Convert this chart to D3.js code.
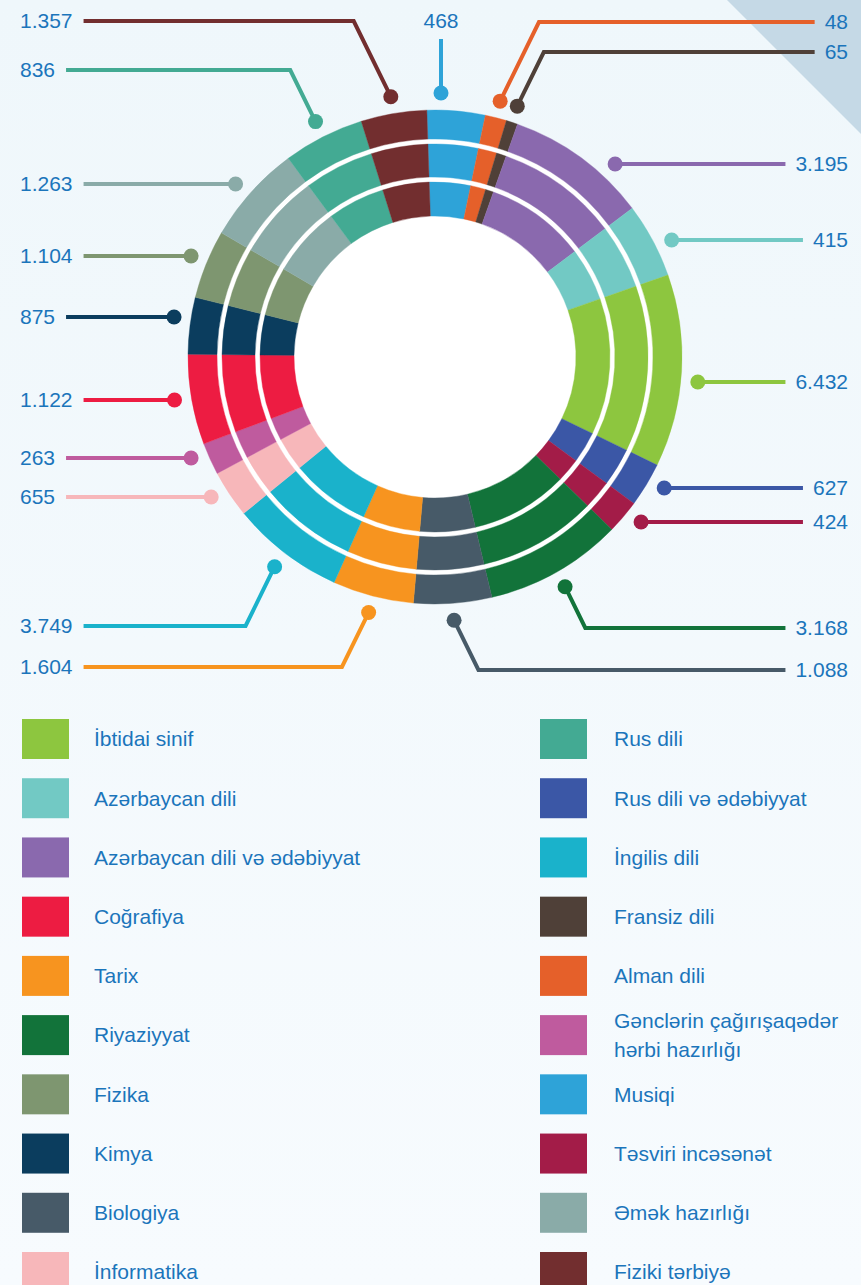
<!DOCTYPE html>
<html>
<head>
<meta charset="utf-8">
<script src="https://cdn.jsdelivr.net/npm/d3@7"></script>
<style>
  body { margin: 0; background: #f3f9fc; }
  svg text {
    font-family: "Liberation Sans", Arial, "DejaVu Sans", sans-serif;
    font-size: 21px;
    fill: #1b75bb;
  }
</style>
</head>
<body>
<div id="vis"></div>
<script>
// subjects in ring order, clockwise from the top
const subjects = ["Musiqi", "Alman dili", "Fransiz dili", "Azərbaycan dili və ədəbiyyat",
  "Azərbaycan dili", "İbtidai sinif", "Rus dili və ədəbiyyat", "Təsviri incəsənət",
  "Riyaziyyat", "Biologiya", "Tarix", "İngilis dili", "İnformatika",
  "Gənclərin çağırışaqədər hərbi hazırlığı", "Coğrafiya", "Kimya", "Fizika",
  "Əmək hazırlığı", "Rus dili", "Fiziki tərbiyə"];

// number shown at each callout
const teachers = [468, 48, 65, 3195, 415, 6432, 627, 424, 3168, 1088, 1604, 3749, 655,
  263, 1122, 875, 1104, 1263, 836, 1357];

// share of the ring each subject takes in the picture (%), not proportional to the numbers
const ringShare = [3.8, 1.4, 0.75, 9.3, 4.9, 12.6, 2.9, 2.2, 9.0, 5.1, 5.3, 7.4, 3.1,
  2.1, 5.9, 3.7, 4.5, 6.5, 5.3, 4.3];

const colors = ["#2ea3d8", "#e5602a", "#4f4038", "#8a69ae", "#72c9c4", "#8dc63f",
  "#3b57a6", "#a31c48", "#12733a", "#475a68", "#f7941f", "#1ab2cb", "#f7b7ba",
  "#bf5b9e", "#ed1c42", "#0b3d5e", "#7e9670", "#8aaba8", "#43aa93", "#722e2f"];

const legendLeft = ["İbtidai sinif", "Azərbaycan dili", "Azərbaycan dili və ədəbiyyat",
  "Coğrafiya", "Tarix", "Riyaziyyat", "Fizika", "Kimya", "Biologiya", "İnformatika"];
const legendRight = ["Rus dili", "Rus dili və ədəbiyyat", "İngilis dili", "Fransiz dili",
  "Alman dili", "Gənclərin çağırışaqədər hərbi hazırlığı", "Musiqi", "Təsviri incəsənət",
  "Əmək hazırlığı", "Fiziki tərbiyə"];

// callout rows (layout only)
const calloutY = {
  "Musiqi": 21, "Alman dili": 22, "Fransiz dili": 52, "Azərbaycan dili və ədəbiyyat": 164,
  "Azərbaycan dili": 240, "İbtidai sinif": 382, "Rus dili və ədəbiyyat": 488,
  "Təsviri incəsənət": 522, "Riyaziyyat": 628, "Biologiya": 670, "Tarix": 667,
  "İngilis dili": 626, "İnformatika": 497, "Gənclərin çağırışaqədər hərbi hazırlığı": 458,
  "Coğrafiya": 400, "Kimya": 317, "Fizika": 256, "Əmək hazırlığı": 184, "Rus dili": 70,
  "Fiziki tərbiyə": 21
};

const width = 861, height = 1285;
const cx = 435, cy = 357;
const rings = [[141, 175], [180, 213], [218, 247]];
const dotR = 264;

const fmt = d3.formatLocale({ decimal: ",", thousands: ".", grouping: [3], currency: ["", ""] }).format(",");
const color = d3.scaleOrdinal().domain(subjects).range(colors);

const svg = d3.select("#vis").append("svg")
  .attr("width", width)
  .attr("height", height);

const defs = svg.append("defs");
const grad = defs.append("linearGradient")
  .attr("id", "bg").attr("x1", 0).attr("y1", 0).attr("x2", 0).attr("y2", 1);
grad.append("stop").attr("offset", "0%").attr("stop-color", "#eff7fb");
grad.append("stop").attr("offset", "100%").attr("stop-color", "#f7fbfe");

svg.append("rect").attr("width", width).attr("height", height).attr("fill", "url(#bg)");
svg.append("path")
  .attr("d", `M727,0 L${width},0 L${width},134 Z`)
  .attr("fill", "#c5d9e6");

const data = subjects.map((s, i) => ({ name: s, value: teachers[i], share: ringShare[i] }));

const start = -1.9 * Math.PI / 180;
const pie = d3.pie()
  .sort(null)
  .value(d => d.share)
  .startAngle(start)
  .endAngle(start + 2 * Math.PI);
const arcs = pie(data);

const g = svg.append("g").attr("transform", `translate(${cx},${cy})`);

// white base so the gaps between rings are white
g.append("circle").attr("r", rings[2][1]).attr("fill", "#fff");

rings.forEach((r, k) => {
  const arc = d3.arc().innerRadius(r[0]).outerRadius(r[1]);
  g.append("g").attr("class", "ring ring-" + k)
    .selectAll("path")
    .data(arcs)
    .join("path")
    .attr("d", arc)
    .attr("fill", d => color(d.data.name))
    .attr("stroke", d => color(d.data.name))
    .attr("stroke-width", 0.4);
});

// callouts
const callouts = svg.append("g").attr("class", "callouts");

arcs.forEach(d => {
  const name = d.data.name;
  const c = color(name);
  const mid = (d.startAngle + d.endAngle) / 2;
  const ly = calloutY[name];
  let dx = cx + dotR * Math.sin(mid);
  let dy = cy - dotR * Math.cos(mid);
  const grp = callouts.append("g");

  if (name === "Musiqi") {
    // top callout: vertical stem
    const lx = 441;
    dx = lx;
    dy = cy - Math.sqrt(dotR * dotR - (lx - cx) * (lx - cx));
    grp.append("path")
      .attr("d", `M${lx},39 V${dy}`)
      .attr("stroke", c).attr("stroke-width", 4).attr("fill", "none");
    grp.append("circle").attr("cx", dx).attr("cy", dy).attr("r", 7.5).attr("fill", c);
    grp.append("text").attr("x", lx).attr("y", ly).attr("dy", "0.35em")
      .attr("text-anchor", "middle").text(fmt(d.data.value));
    return;
  }

  const left = mid > Math.PI;
  const text = grp.append("text")
    .attr("x", left ? 20 : 848)
    .attr("y", ly)
    .attr("dy", "0.35em")
    .attr("text-anchor", left ? "start" : "end")
    .text(fmt(d.data.value));
  const tw = text.node().getComputedTextLength();
  const edge = left ? 20 + tw + 11 : 848 - tw - 10;

  let path;
  if (Math.abs(ly - dy) < 30) {
    // slide the dot along the circle to the label row
    dy = ly;
    const off = Math.sqrt(dotR * dotR - (ly - cy) * (ly - cy));
    dx = left ? cx - off : cx + off;
    path = `M${edge},${ly} H${dx}`;
  } else {
    const ex = dx + (left ? -1 : 1) * 0.49 * Math.abs(ly - dy);
    path = `M${edge},${ly} H${ex} L${dx},${dy}`;
  }
  grp.insert("path", "text")
    .attr("d", path)
    .attr("stroke", c).attr("stroke-width", 4).attr("fill", "none")
    .attr("stroke-linejoin", "miter");
  grp.append("circle").attr("cx", dx).attr("cy", dy).attr("r", 7.5).attr("fill", c);
});

// legend
const legend = svg.append("g").attr("class", "legend");
const rowY = d3.scaleLinear().domain([0, 9]).range([719, 1252]);

[[legendLeft, 22, 94], [legendRight, 540, 614]].forEach(([items, sx, tx]) => {
  const rows = legend.append("g").selectAll("g")
    .data(items)
    .join("g")
    .attr("transform", (d, i) => `translate(0,${rowY(i)})`);
  rows.append("rect")
    .attr("x", sx).attr("width", 47).attr("height", 40)
    .attr("fill", d => color(d));
  rows.each(function (d) {
    const row = d3.select(this);
    const words = d.split(" ");
    if (d.length > 30) {
      // two-line label
      const cut = 2;
      row.append("text").attr("x", tx).attr("y", 20 - 14.5).attr("dy", "0.35em")
        .text(words.slice(0, cut).join(" "));
      row.append("text").attr("x", tx).attr("y", 20 + 14.5).attr("dy", "0.35em")
        .text(words.slice(cut).join(" "));
    } else {
      row.append("text").attr("x", tx).attr("y", 20).attr("dy", "0.35em").text(d);
    }
  });
});
</script>
</body>
</html>
